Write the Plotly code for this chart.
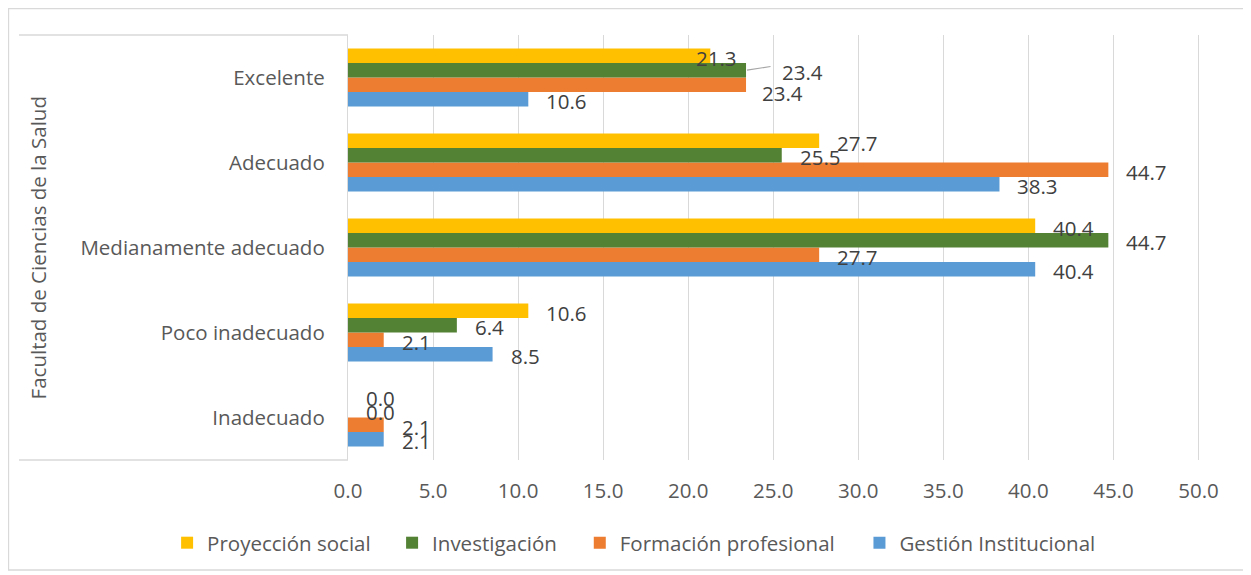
import plotly.graph_objects as go

# categories, bottom to top
categorias = ["Inadecuado", "Poco inadecuado", "Medianamente adecuado", "Adecuado", "Excelente"]

# series, drawn bottom to top within each group
series = ["Gestión Institucional", "Formación profesional", "Investigación", "Proyección social"]
colores = ["#5B9BD5", "#ED7D31", "#548235", "#FFC000"]

gestion = [2.1, 8.5, 40.4, 38.3, 10.6]
formacion = [2.1, 2.1, 27.7, 44.7, 23.4]
investigacion = [0.0, 6.4, 44.7, 25.5, 23.4]
proyeccion = [0.0, 10.6, 40.4, 27.7, 21.3]
valores = [gestion, formacion, investigacion, proyeccion]

xticks = [0, 5, 10, 15, 20, 25, 30, 35, 40, 45, 50]

# hand nudges of overlapping labels (series index, category index): (dx px, dy px)
ajustes = {
    (3, 4): (-32, 0),
    (2, 4): (18, 0),
    (1, 4): (-2, -6),
}

GRIS = "#595959"
FUENTE = "Open Sans"
TAM = 20.5
GAP = 0.32
ANCHO = (1 - GAP) / 4
LINEA = "#d9d9d9"

# one legend per series so the entries sit where the original has them
leyendas = ["legend4", "legend3", "legend2", "legend"]
leyenda_x = [0.685, 0.460, 0.309, 0.128]

fig = go.Figure()
for i, (nombre, col, vals) in enumerate(zip(series, colores, valores)):
    fig.add_trace(go.Bar(
        y=categorias, x=vals, name=nombre, orientation="h",
        marker=dict(color=col, line=dict(width=0)),
        legend=leyendas[i], showlegend=True,
    ))

anotaciones = []
for i, vals in enumerate(valores):
    for c, v in enumerate(vals):
        dx, dy = ajustes.get((i, c), (0, 0))
        anotaciones.append(dict(
            x=v, y=c + (i - 1.5) * ANCHO, xref="x", yref="y",
            text=f"{v:.1f}", showarrow=False, xanchor="left",
            xshift=16 + dx, yshift=-2 + dy,
            font=dict(family=FUENTE, size=TAM, color="#404040"),
        ))

# leader line for the shifted 23.4 label
anotaciones.append(dict(
    x=investigacion[4], y=4 + 0.5 * ANCHO, xref="x", yref="y",
    ax=26, ay=-4, axref="pixel", ayref="pixel", text="", showarrow=True,
    arrowhead=0, arrowwidth=1.2, arrowcolor="#a6a6a6", standoff=1,
))

anotaciones.append(dict(
    text="Facultad de Ciencias de la Salud", xref="paper", yref="paper",
    x=-0.361, y=0.5, xanchor="center", yanchor="middle",
    textangle=-90, showarrow=False,
    font=dict(family=FUENTE, size=TAM, color=GRIS),
))

fig.update_layout(
    width=1243, height=567,
    margin=dict(l=340, r=44, t=27, b=115, autoexpand=False),
    paper_bgcolor="white", plot_bgcolor="white",
    showlegend=True,
    barmode="group", bargap=GAP, bargroupgap=0,
    font=dict(family=FUENTE, size=TAM, color=GRIS),
    annotations=anotaciones,
    xaxis=dict(
        range=[0, 50.5], tickvals=xticks, tickformat=".1f",
        showgrid=True, gridcolor=LINEA, gridwidth=1.3,
        zeroline=False, showline=False, ticks="", ticklabelstandoff=16,
        tickfont=dict(size=TAM, color=GRIS),
    ),
    yaxis=dict(
        type="category", showgrid=False, zeroline=False,
        showline=True, linecolor=LINEA, linewidth=1.3,
        ticks="", ticklabelstandoff=18,
        tickfont=dict(size=TAM, color=GRIS),
    ),
    shapes=[
        # outer chart border
        dict(type="rect", xref="paper", yref="paper", x0=-0.3952, x1=1.0454, y0=-0.2588, y1=1.0624,
             line=dict(color=LINEA, width=1.3)),
        # multi-level category box
        dict(type="line", xref="paper", yref="paper", x0=-0.383, x1=0, y0=1, y1=1,
             line=dict(color=LINEA, width=1.3)),
        dict(type="line", xref="paper", yref="paper", x0=-0.383, x1=0, y0=0, y1=0,
             line=dict(color=LINEA, width=1.3)),
    ],
)

for ley, lx in zip(leyendas, leyenda_x):
    fig.update_layout({ley: dict(
        orientation="h", xref="container", x=lx, xanchor="left",
        y=-0.195, yanchor="middle", bgcolor="rgba(0,0,0,0)",
        font=dict(family=FUENTE, size=TAM, color=GRIS),
        itemwidth=30,
    )})

fig.write_html("out.html")
